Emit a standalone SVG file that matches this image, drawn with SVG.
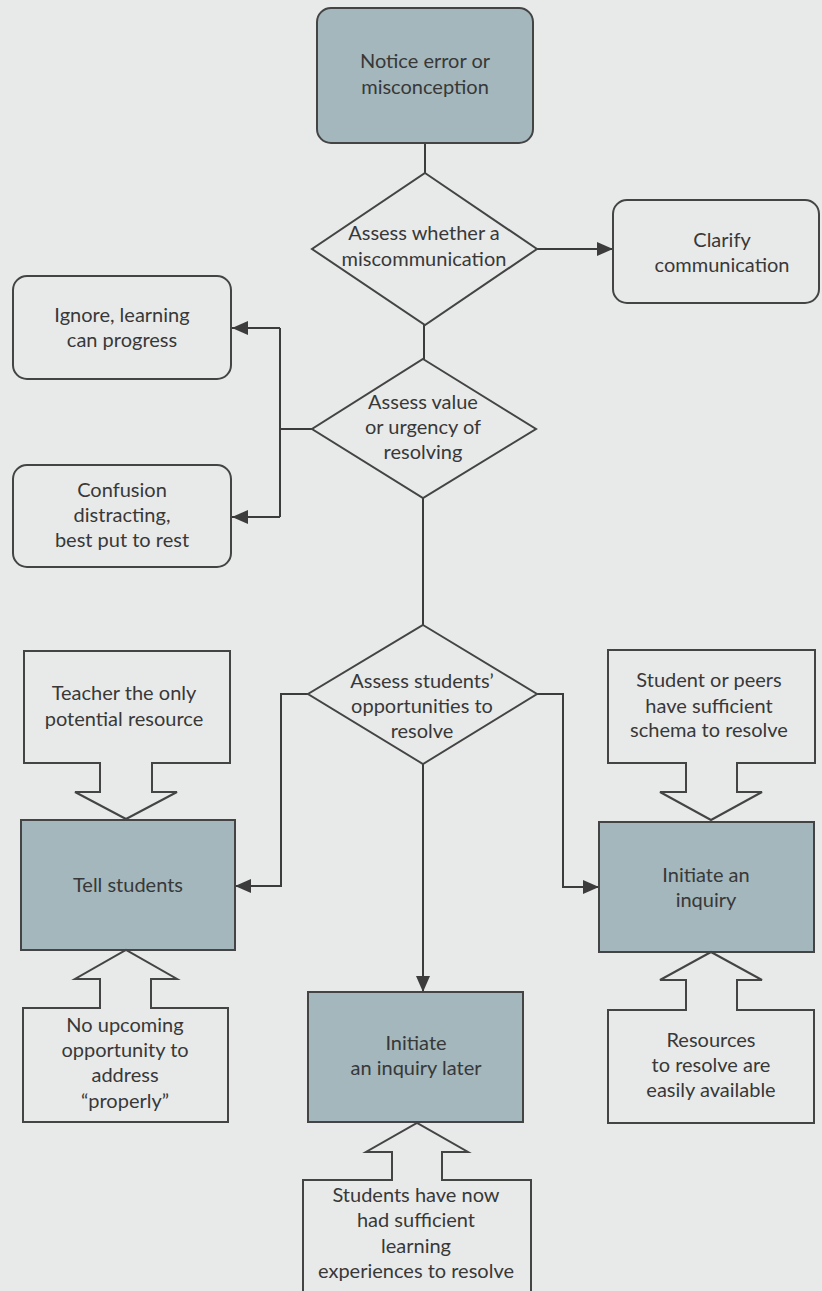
<svg xmlns="http://www.w3.org/2000/svg" width="822" height="1291" viewBox="0 0 822 1291">
<defs>
<style>
.bg{fill:#e8eaea}
.box{fill:none;stroke:#444;stroke-width:2}
.fill{fill:#a3b7bc;stroke:#444;stroke-width:2}
.ln{fill:none;stroke:#3c3c3c;stroke-width:2}
.t{font-family:Lato,"Liberation Sans",sans-serif;font-size:20px;fill:#383838;text-anchor:middle}
</style>
<marker id="ah" markerUnits="userSpaceOnUse" markerWidth="16" markerHeight="16" viewBox="0 0 16 16" refX="16" refY="8" orient="auto">
<path d="M0,1 L16,8 L0,15 Z" fill="#3c3c3c"/>
</marker>
</defs>
<rect class="bg" x="0" y="0" width="822" height="1291"/>

<g id="connectors">
<path class="ln" d="M425,143 V173"/>
<path class="ln" d="M537,249 H613" marker-end="url(#ah)"/>
<path class="ln" d="M424,325 V359"/>
<path class="ln" d="M312,429 H280 M280,328 V517"/>
<path class="ln" d="M280,328 H232" marker-end="url(#ah)"/>
<path class="ln" d="M280,517 H232" marker-end="url(#ah)"/>
<path class="ln" d="M423,498 V625"/>
<path class="ln" d="M308,694 H281 V886 H235" marker-end="url(#ah)"/>
<path class="ln" d="M537,694 H563 V887 H599" marker-end="url(#ah)"/>
<path class="ln" d="M423,764 V992" marker-end="url(#ah)"/>
</g>

<g id="notice">
<rect class="fill" x="317" y="8" width="216" height="135" rx="14"/>
<text class="t" x="425" y="68">Notice error or</text>
<text class="t" x="425" y="94">misconception</text>
</g>

<g id="assess-miscommunication">
<path class="box" d="M425,173 L537,249 L425,325 L312,249 Z"/>
<text class="t" x="424" y="240">Assess whether a</text>
<text class="t" x="424" y="266">miscommunication</text>
</g>

<g id="clarify">
<rect class="box" x="613" y="200" width="206" height="103" rx="14"/>
<text class="t" x="722" y="247">Clarify</text>
<text class="t" x="722" y="272">communication</text>
</g>

<g id="ignore">
<rect class="box" x="13" y="276" width="218" height="103" rx="14"/>
<text class="t" x="122" y="322">Ignore, learning</text>
<text class="t" x="122" y="347">can progress</text>
</g>

<g id="assess-value">
<path class="box" d="M423,359 L536,429 L423,498 L312,429 Z"/>
<text class="t" x="423" y="409">Assess value</text>
<text class="t" x="423" y="434">or urgency of</text>
<text class="t" x="423" y="459">resolving</text>
</g>

<g id="confusion">
<rect class="box" x="13" y="465" width="218" height="102" rx="14"/>
<text class="t" x="122" y="497">Confusion</text>
<text class="t" x="122" y="522">distracting,</text>
<text class="t" x="122" y="547">best put to rest</text>
</g>

<g id="assess-opportunities">
<path class="box" d="M423,625 L537,694 L423,764 L308,694 Z"/>
<text class="t" x="422" y="688">Assess students’</text>
<text class="t" x="422" y="713">opportunities to</text>
<text class="t" x="422" y="738">resolve</text>
</g>

<g id="teacher-only">
<path class="box" d="M24,651 H230 V763 H152 V792 H177 L126,819 L75,792 H100 V763 H24 Z"/>
<text class="t" x="124" y="700">Teacher the only</text>
<text class="t" x="124" y="726">potential resource</text>
</g>

<g id="student-peers">
<path class="box" d="M608,650 H815 V763 H737 V792 H762 L711,820 L660,792 H686 V763 H608 Z"/>
<text class="t" x="709" y="687">Student or peers</text>
<text class="t" x="709" y="713">have sufficient</text>
<text class="t" x="709" y="737">schema to resolve</text>
</g>

<g id="tell-students">
<rect class="fill" x="21" y="820" width="214" height="130"/>
<text class="t" x="128" y="892">Tell students</text>
</g>

<g id="initiate-inquiry">
<rect class="fill" x="599" y="822" width="215" height="130"/>
<text class="t" x="706" y="882">Initiate an</text>
<text class="t" x="706" y="907">inquiry</text>
</g>

<g id="no-upcoming">
<path class="box" d="M23,1008 H100 V979 H75 L126,950 L177,979 H151 V1008 H228 V1122 H23 Z"/>
<text class="t" x="125" y="1032">No upcoming</text>
<text class="t" x="125" y="1057">opportunity to</text>
<text class="t" x="125" y="1082">address</text>
<text class="t" x="125" y="1108">“properly”</text>
</g>

<g id="initiate-later">
<rect class="fill" x="308" y="992" width="215" height="130"/>
<text class="t" x="416" y="1050">Initiate</text>
<text class="t" x="416" y="1075">an inquiry later</text>
</g>

<g id="resources">
<path class="box" d="M608,1010 H686 V980 H660 L711,952 L762,980 H737 V1010 H814 V1123 H608 Z"/>
<text class="t" x="711" y="1047">Resources</text>
<text class="t" x="711" y="1072">to resolve are</text>
<text class="t" x="711" y="1097">easily available</text>
</g>

<g id="students-now">
<path class="box" d="M303,1180 H392 V1152 H366 L417,1123 L468,1152 H442 V1180 H531 V1300 H303 Z"/>
<text class="t" x="416" y="1202">Students have now</text>
<text class="t" x="416" y="1227">had sufficient</text>
<text class="t" x="416" y="1253">learning</text>
<text class="t" x="416" y="1278">experiences to resolve</text>
</g>
</svg>
